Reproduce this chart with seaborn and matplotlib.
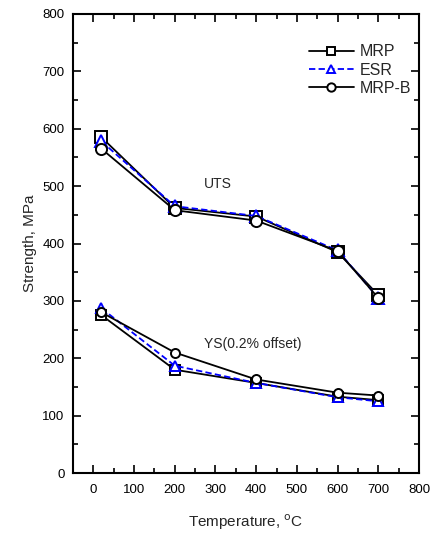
import matplotlib
matplotlib.use("Agg")
import matplotlib.pyplot as plt
import seaborn as sns
import pandas as pd
from matplotlib.ticker import MultipleLocator
from matplotlib.lines import Line2D

sns.set_theme(style="ticks")
plt.rcParams['font.family'] = ['Liberation Sans', 'DejaVu Sans']

temps = [20, 200, 400, 600, 700]
series = ["MRP", "ESR", "MRP-B"]
uts = {
    "MRP": [585, 462, 447, 385, 310],
    "ESR": [578, 465, 448, 388, 305],
    "MRP-B": [565, 458, 440, 387, 305],
}
ys = {
    "MRP": [275, 180, 157, 133, 127],
    "ESR": [287, 187, 157, 132, 125],
    "MRP-B": [280, 210, 163, 140, 135],
}

colors = {"MRP": "black", "ESR": "#0000ff", "MRP-B": "black"}
markers = {"MRP": "s", "ESR": "^", "MRP-B": "o"}
lstyles = {"MRP": "-", "ESR": (0, (3.5, 1.8)), "MRP-B": "-"}
msize_prop = {"UTS": 8, "YS": 6.5}

rows = []
for s in series:
    for t, v in zip(temps, uts[s]):
        rows.append(dict(series=s, prop="UTS", T=t, val=v))
    for t, v in zip(temps, ys[s]):
        rows.append(dict(series=s, prop="YS", T=t, val=v))
df = pd.DataFrame(rows)

fig = plt.figure(figsize=(4.35, 5.34), dpi=100)
ax = fig.add_axes([73/435, 61/534, 346/435, 459/534])

for s in series:
    for p in ["UTS", "YS"]:
        d = df[(df.series == s) & (df.prop == p)]
        sns.lineplot(data=d, x="T", y="val", ax=ax, color=colors[s],
                     marker=markers[s], linestyle=lstyles[s], linewidth=1.3,
                     markersize=msize_prop[p], markerfacecolor="white",
                     markeredgecolor=colors[s], markeredgewidth=1.4,
                     sort=False, legend=False, errorbar=None)

ax.set_xlim(-50, 800)
ax.set_ylim(0, 800)
ax.xaxis.set_major_locator(MultipleLocator(100))
ax.xaxis.set_minor_locator(MultipleLocator(50))
ax.yaxis.set_major_locator(MultipleLocator(100))
ax.yaxis.set_minor_locator(MultipleLocator(50))
ax.tick_params(which="both", direction="in", top=True, right=True,
               labelsize=9.5, width=1.2, colors="black")
ax.tick_params(which="major", length=6)
ax.tick_params(which="minor", length=3.5)
for sp in ax.spines.values():
    sp.set_linewidth(1.5)
    sp.set_color("black")
ax.set_xlabel("Temperature, $^\\mathrm{o}$C", fontsize=11, labelpad=12)
ax.set_ylabel("Strength, MPa", fontsize=11, labelpad=4)
ax.tick_params(axis="x", pad=8)
ax.tick_params(axis="y", pad=6)

ax.text(305, 503, "UTS", fontsize=10, ha="center", va="center")
ax.text(392, 225, "YS(0.2% offset)", fontsize=10, ha="center", va="center")

handles = [Line2D([], [], color=colors[s], marker=markers[s], linestyle=lstyles[s],
                  linewidth=1.3, markersize=6, markerfacecolor="white",
                  markeredgewidth=1.4) for s in series]
ax.legend(handles, series, loc="upper right", bbox_to_anchor=(1.02, 0.965),
          frameon=False, fontsize=11.5, handlelength=2.8, labelspacing=0.2,
          handletextpad=0.4)

fig.savefig("out.png", dpi=100)
